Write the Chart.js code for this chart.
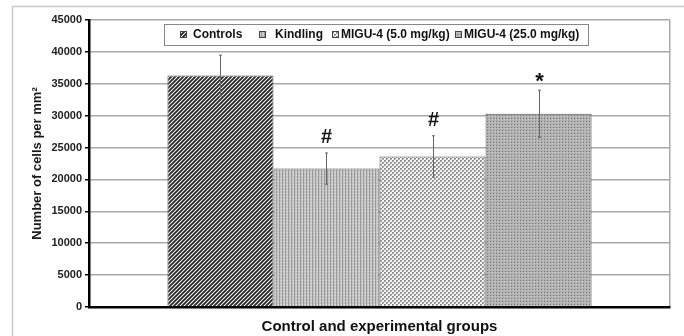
<!DOCTYPE html>
<html><head><meta charset="utf-8">
<script src="https://cdn.jsdelivr.net/npm/chart.js@4"></script>
<style>html,body{margin:0;padding:0;background:#fff}</style>
</head><body>
<canvas id="c" width="684" height="336"></canvas>
<script>
const groups = ['Controls', 'Kindling', 'MIGU-4 (5.0 mg/kg)', 'MIGU-4 (25.0 mg/kg)'];
const means = [36300, 21700, 23600, 30300];
const errors = [3200, 2450, 3250, 3700];
const marks = ['', '#', '#', '*'];
const yMax = 45000;
const yStep = 5000;

function makePattern(kind) {
  const c = document.createElement('canvas');
  const x = c.getContext('2d');
  if (kind === 0) {
    c.width = 4; c.height = 4;
    x.fillStyle = '#fff'; x.fillRect(0, 0, 4, 4);
    x.strokeStyle = '#2a2a2a'; x.lineWidth = 1.9;
    x.beginPath();
    x.moveTo(-1, 5); x.lineTo(5, -1);
    x.moveTo(-3, 3); x.lineTo(3, -3);
    x.moveTo(1, 7); x.lineTo(7, 1);
    x.stroke();
  } else if (kind === 1) {
    c.width = 3; c.height = 3;
    x.fillStyle = '#c4c4c4'; x.fillRect(0, 0, 3, 3);
    x.fillStyle = '#9a9a9a'; x.fillRect(0, 0, 1, 3);
    x.fillStyle = '#e6e6e6'; x.fillRect(2, 1, 1, 1);
  } else if (kind === 2) {
    c.width = 4; c.height = 4;
    x.fillStyle = '#f4f4f4'; x.fillRect(0, 0, 4, 4);
    x.fillStyle = '#8e8e8e';
    x.fillRect(0, 0, 2, 2); x.fillRect(2, 2, 2, 2);
    x.fillStyle = '#c0c0c0';
    x.fillRect(1, 1, 1, 1); x.fillRect(3, 3, 1, 1);
  } else {
    c.width = 3; c.height = 3;
    x.fillStyle = '#b2b2b2'; x.fillRect(0, 0, 3, 3);
    x.fillStyle = '#767676'; x.fillRect(1, 1, 1, 1);
    x.fillStyle = '#cccccc'; x.fillRect(0, 2, 1, 1);
  }
  return document.getElementById('c').getContext('2d').createPattern(c, 'repeat');
}
const patterns = groups.map((g, i) => makePattern(i));

const FONT = '"Liberation Sans", Arial, sans-serif';
Chart.defaults.font.family = FONT;

const decor = {
  id: 'decor',
  beforeDraw(chart) {
    const ctx = chart.ctx;
    ctx.save();
    ctx.fillStyle = '#fff';
    ctx.fillRect(0, 0, chart.width, chart.height);
    ctx.strokeStyle = '#c8c8c8';
    ctx.lineWidth = 1.5;
    ctx.strokeRect(12.5, 6.5, 700, 400);
    ctx.restore();
  },
  afterDatasetsDraw(chart) {
    const ctx = chart.ctx;
    const y = chart.scales.y;
    ctx.save();
    chart.data.datasets.forEach((ds, i) => {
      const bar = chart.getDatasetMeta(i).data[0];
      const cx = Math.round(bar.x) + 0.5;
      const top = y.getPixelForValue(means[i] + errors[i]);
      const bot = y.getPixelForValue(means[i] - errors[i]);
      ctx.strokeStyle = '#666';
      ctx.lineWidth = 1;
      ctx.beginPath();
      ctx.moveTo(cx, top); ctx.lineTo(cx, bot);
      ctx.moveTo(cx - 1.5, top); ctx.lineTo(cx + 1.5, top);
      ctx.moveTo(cx - 1.5, bot); ctx.lineTo(cx + 1.5, bot);
      ctx.stroke();
      if (marks[i]) {
        ctx.fillStyle = '#111';
        ctx.font = (marks[i] === '*' ? 'bold 22px ' : 'bold 20px ') + FONT;
        ctx.textAlign = 'center';
        ctx.textBaseline = 'alphabetic';
        ctx.fillText(marks[i], cx, top - (marks[i] === '*' ? 2 : 10));
      }
    });
    ctx.restore();
  },
  afterDraw(chart) {
    const ctx = chart.ctx;
    ctx.save();
    ctx.fillStyle = '#fff';
    ctx.fillRect(164, 24, 424, 21);
    ctx.strokeStyle = '#888';
    ctx.lineWidth = 1;
    ctx.strokeRect(164.5, 24.5, 424, 21);
    const symX = [180, 259, 332, 455];
    const txtX = [193, 275, 341, 464];
    ctx.font = 'bold 12px ' + FONT;
    ctx.textBaseline = 'middle';
    ctx.textAlign = 'left';
    groups.forEach((g, i) => {
      ctx.fillStyle = patterns[i];
      ctx.fillRect(symX[i], 31, 6, 6);
      ctx.strokeStyle = '#444';
      ctx.strokeRect(symX[i] + 0.5, 31.5, 6, 6);
      ctx.fillStyle = '#111';
      ctx.fillText(g, txtX[i], 35);
    });
    ctx.restore();
  }
};

new Chart(document.getElementById('c'), {
  type: 'bar',
  data: {
    labels: [''],
    datasets: groups.map((g, i) => ({
      label: g,
      data: [means[i]],
      backgroundColor: patterns[i],
      borderColor: '#555',
      borderWidth: 1,
      categoryPercentage: 0.73,
      barPercentage: 1.0
    }))
  },
  options: {
    responsive: false,
    animation: false,
    devicePixelRatio: 1,
    layout: { padding: { left: 26, right: 14, top: 20, bottom: 0 } },
    plugins: { legend: { display: false }, tooltip: { enabled: false } },
    scales: {
      x: {
        ticks: { display: false },
        grid: { display: true, drawTicks: false, color: '#a8a8a8', lineWidth: 1.5 },
        border: { display: true, color: '#000', width: 2.5 },
        title: {
          display: true,
          text: 'Control and experimental groups',
          font: { size: 15, weight: 'bold' },
          color: '#111',
          padding: { top: 11, bottom: 0 }
        }
      },
      y: {
        min: 0,
        max: yMax,
        ticks: {
          stepSize: yStep, color: '#222', font: { size: 11, weight: 'bold' }, padding: 3,
          callback: (v) => String(v)
        },
        grid: { color: '#a8a8a8', lineWidth: 1.5, tickColor: '#000', tickLength: 4, tickWidth: 1.5 },
        border: { display: true, color: '#000', width: 2.5 },
        title: {
          display: true,
          text: 'Number of cells per mm²',
          font: { size: 13, weight: 'bold' },
          color: '#1a1a1a',
          padding: { top: 4, bottom: 4 }
        },
        afterFit(scale) { scale.width = 63; }
      }
    }
  },
  plugins: [decor]
});
</script>
</body></html>
